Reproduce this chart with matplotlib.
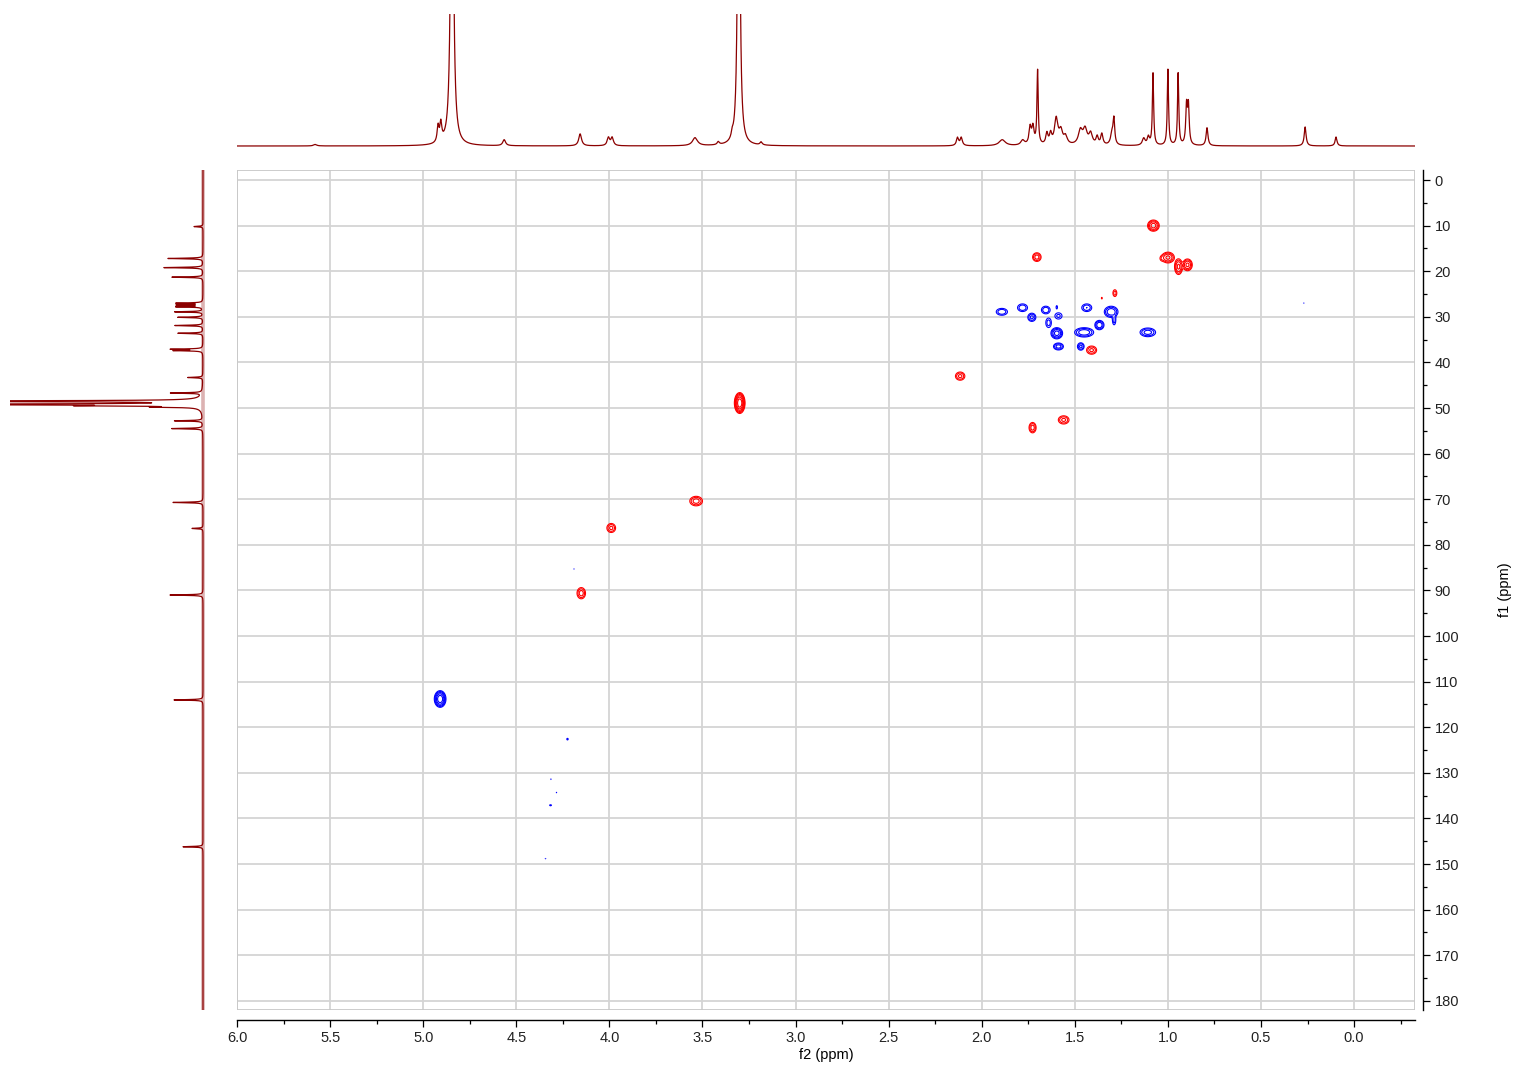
import numpy as np
import matplotlib
matplotlib.use('Agg')
import matplotlib.pyplot as plt
from matplotlib.patches import Rectangle
from matplotlib.ticker import MultipleLocator, FixedLocator, FormatStrFormatter

plt.rcParams['font.family'] = ['Liberation Sans', 'DejaVu Sans']

# 1H projection (top): peak position (ppm), height, half width (ppm)
h1_ppm = [5.58, 4.92, 4.905, 4.845, 4.565, 4.157, 4.005, 3.985, 3.54, 3.415,
          3.34, 3.305, 3.185, 2.13, 2.11, 1.89, 1.78, 1.74, 1.725, 1.70,
          1.65, 1.63, 1.60, 1.575, 1.55, 1.47, 1.445, 1.415, 1.38, 1.355,
          1.30, 1.29, 1.13, 1.105, 1.08, 1.00, 0.945, 0.90, 0.89, 0.79,
          0.263, 0.097]
h1_height = [1.5, 16, 18, 500, 6, 12, 8, 8, 8, 3,
             5, 500, 3, 8, 8, 6, 5, 17, 17, 74,
             11, 10, 26, 13, 8, 14, 15, 11, 8, 11,
             12, 24, 7, 8, 72, 76, 72, 38, 38, 18,
             19, 9]
h1_width = [0.01, 0.006, 0.006, 0.007, 0.009, 0.009, 0.008, 0.008, 0.016, 0.007,
            0.006, 0.006, 0.007, 0.007, 0.007, 0.02, 0.012, 0.007, 0.007, 0.004,
            0.007, 0.007, 0.011, 0.011, 0.011, 0.013, 0.013, 0.011, 0.007, 0.007,
            0.009, 0.005, 0.009, 0.007, 0.004, 0.004, 0.004, 0.005, 0.005, 0.006,
            0.006, 0.006]

# 13C projection (left): peak position (ppm), height
c13_ppm = [10.2, 17.2, 19.2, 21.3, 27.0, 27.4, 27.8, 28.9, 30.1, 31.9,
           33.6, 37.1, 37.4, 43.3, 46.7, 48.5, 49.2, 49.5, 49.8, 52.8,
           54.5, 70.7, 76.4, 91.0, 114.0, 146.2]
c13_height = [9, 35, 39, 31, 26, 25, 26, 28, 25, 28,
              25, 31, 28, 15, 31, 500, 500, 90, 37, 28,
              31, 30, 11, 33, 29, 20]

# HSQC cross peaks: f2 (1H), f1 (13C), signed intensity, widths
hsqc_f2 = [1.078, 1.704, 1.033, 1.000, 0.943, 0.895, 1.285, 1.355, 1.41, 1.56,
           1.727, 2.116, 3.30, 3.534, 3.99, 4.151,
           1.892, 1.781, 1.731, 1.656, 1.597, 1.588, 1.641, 1.597, 1.588, 1.436,
           1.45, 1.468, 1.368, 1.305, 1.289, 1.108, 4.909, 4.225, 4.314, 4.284,
           4.316, 4.343, 4.19, 0.27, 4.253]
hsqc_f1 = [10.0, 16.9, 17.2, 17.0, 19.0, 18.6, 24.8, 25.9, 37.3, 52.6,
           54.3, 43.0, 48.9, 70.4, 76.3, 90.6,
           28.9, 28.0, 30.1, 28.5, 27.9, 29.8, 31.3, 33.6, 36.5, 28.0,
           33.4, 36.5, 31.8, 28.9, 30.7, 33.4, 113.8, 122.6, 131.4, 134.3,
           137.1, 148.8, 85.3, 27.0, 128.5]
hsqc_amp = [12, 6, 1.5, 10, 10, 10, 3, 1.2, 5, 5,
            6, 5, 60, 6, 5, 6,
            -4, -4, -5, -4, -1.5, -2.5, -3, -12, -6, -4,
            -8, -5, -8, -8, -3, -6, -30, -1.3, -1.1, -1.1,
            -1.3, -1.1, -1.05, -1.05, -1.05]
hsqc_wx = [0.014, 0.012, 0.008, 0.016, 0.010, 0.012, 0.007, 0.004, 0.015, 0.016,
           0.010, 0.014, 0.010, 0.018, 0.013, 0.012,
           0.018, 0.016, 0.012, 0.014, 0.004, 0.014, 0.010, 0.014, 0.014, 0.016,
           0.025, 0.010, 0.012, 0.018, 0.006, 0.022, 0.012, 0.005, 0.003, 0.003,
           0.007, 0.003, 0.002, 0.002, 0.003]
hsqc_wy = [0.55, 0.5, 0.4, 0.55, 0.8, 0.6, 0.5, 0.3, 0.5, 0.5,
           0.6, 0.5, 0.8, 0.55, 0.55, 0.65,
           0.45, 0.5, 0.5, 0.5, 0.4, 0.5, 0.7, 0.55, 0.4, 0.5,
           0.5, 0.45, 0.5, 0.6, 0.7, 0.5, 0.7, 0.25, 0.15, 0.15,
           0.15, 0.15, 0.15, 0.15, 0.15]

x_ticks = [6.0, 5.5, 5.0, 4.5, 4.0, 3.5, 3.0, 2.5, 2.0, 1.5, 1.0, 0.5, 0.0]
y_ticks = list(range(0, 190, 10))

F2_LIM = (6.0, -0.327)
F1_LIM = (182.0, -2.2)
SPEC = '#8b0000'

fig = plt.figure(figsize=(15.2, 10.68), dpi=100)
W, H = 1520, 1068
ax = fig.add_axes([237 / W, 1 - 1010 / H, 1178 / W, 840 / H])
ax_top = fig.add_axes([237 / W, 1 - 150 / H, 1178 / W, 136 / H])
ax_left = fig.add_axes([10 / W, 1 - 1010 / H, 196 / W, 840 / H])

# --- 2D contour map
gx = np.arange(-0.1, 5.3, 0.002)
gy = np.arange(0.0, 160.0, 0.08)
Z = np.zeros((gy.size, gx.size))
for f2, f1, a, sx, sy in zip(hsqc_f2, hsqc_f1, hsqc_amp, hsqc_wx, hsqc_wy):
    Z += a * np.outer(np.exp(-0.5 * ((gy - f1) / sy) ** 2),
                      np.exp(-0.5 * ((gx - f2) / sx) ** 2))
ax.contour(gx, gy, Z, levels=[1, 2, 4, 8, 16, 32], colors='red',
           linewidths=0.8, zorder=3)
ax.contour(gx, gy, Z, levels=[-32, -16, -8, -4, -2, -1], colors='blue',
           linewidths=0.8, linestyles='solid', zorder=3)

ax.set_xlim(*F2_LIM)
ax.set_ylim(*F1_LIM)
ax.xaxis.set_major_locator(FixedLocator(x_ticks))
ax.xaxis.set_minor_locator(MultipleLocator(0.25))
ax.xaxis.set_major_formatter(FormatStrFormatter('%.1f'))
ax.yaxis.set_major_locator(FixedLocator(y_ticks))
ax.yaxis.set_minor_locator(MultipleLocator(5))
ax.yaxis.tick_right()
ax.yaxis.set_label_position('right')
ax.grid(True, which='major', color='#d4d4d4', lw=1.3)
ax.set_axisbelow(True)
for s in ['top', 'left']:
    ax.spines[s].set_visible(False)
ax.spines['bottom'].set_position(('outward', 7))
ax.spines['right'].set_position(('outward', 6))
ax.spines['bottom'].set_linewidth(1.0)
ax.spines['right'].set_linewidth(1.0)
ax.add_patch(Rectangle((0, 0), 1, 1, transform=ax.transAxes, fill=False,
                       edgecolor='#c8c8c8', lw=1.3, zorder=1))
ax.tick_params(which='major', length=5, width=0.9, labelsize=10.5,
               colors='black', labelcolor='#222222', pad=3)
ax.tick_params(which='minor', length=3, width=0.9)
ax.set_xlabel('f2 (ppm)', fontsize=10.5, labelpad=2)
ax.set_ylabel('f1 (ppm)', fontsize=10.5, labelpad=28)

# --- 1H projection
x1 = np.arange(-0.33, 6.0, 0.0005)
y1 = np.zeros_like(x1)
for p, h, w in zip(h1_ppm, h1_height, h1_width):
    y1 += h / (1 + ((x1 - p) / w) ** 2)
ax_top.plot(x1, y1, color=SPEC, lw=0.9)
ax_top.set_xlim(*F2_LIM)
ax_top.set_ylim(-4, 132)
ax_top.axis('off')

# --- 13C projection
yc = np.arange(-2.2, 182.0, 0.01)
xc = np.zeros_like(yc)
for p, h in zip(c13_ppm, c13_height):
    xc += h / (1 + ((yc - p) / 0.08) ** 2)
ax_left.plot(np.zeros_like(yc), yc, color=SPEC, lw=2.6, alpha=0.3)
ax_left.plot(xc, yc, color=SPEC, lw=0.9)
ax_left.set_xlim(193, -3)
ax_left.set_ylim(*F1_LIM)
ax_left.axis('off')

fig.savefig('out.png', dpi=100)
